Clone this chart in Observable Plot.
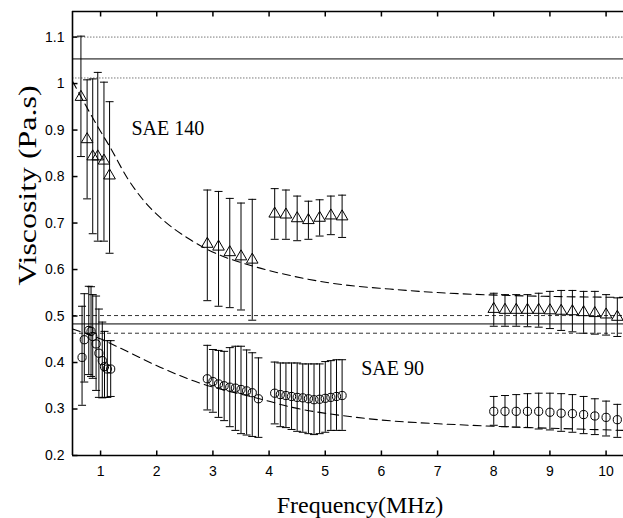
<!DOCTYPE html>
<html><head><meta charset="utf-8">
<script src="https://cdn.jsdelivr.net/npm/d3@7"></script>
<script src="https://cdn.jsdelivr.net/npm/@observablehq/plot@0.6"></script>
<style>body{margin:0;background:#fff}#chart svg{display:block}</style>
</head><body><div id="chart"></div>
<script>
// ---- SAE 140 (triangles) ----
const sae140Freq = [0.65,0.76,0.86,0.95,1.06,1.16, 2.9,3.1,3.3,3.5,3.7, 4.1,4.3,4.5,4.7,4.9,5.1,5.3, 8.0,8.2,8.4,8.6,8.8,9.0,9.2,9.4,9.6,9.8,10.0,10.2];
const sae140Visc = [0.971,0.880,0.843,0.843,0.834,0.802, 0.655,0.649,0.637,0.628,0.621, 0.720,0.718,0.710,0.706,0.711,0.716,0.714, 0.515,0.513,0.513,0.513,0.513,0.512,0.511,0.510,0.508,0.506,0.503,0.498];
const sae140Hi   = [1.102,1.008,1.010,1.024,1.003,0.961, 0.771,0.768,0.753,0.743,0.751, 0.774,0.771,0.758,0.747,0.750,0.758,0.760, 0.549,0.546,0.546,0.546,0.549,0.553,0.555,0.555,0.553,0.553,0.546,0.539];
const sae140Lo   = [0.843,0.752,0.677,0.661,0.661,0.635, 0.533,0.521,0.518,0.513,0.491, 0.665,0.665,0.662,0.665,0.672,0.675,0.669, 0.478,0.478,0.478,0.477,0.476,0.473,0.469,0.466,0.463,0.461,0.459,0.456];
// ---- SAE 90 (circles) ----
const sae90Freq = [0.67,0.71,0.79,0.83,0.86,0.92,0.97,1.03,1.07,1.12,1.18, 2.9,3.0,3.1,3.2,3.3,3.4,3.5,3.6,3.7,3.81, 4.1,4.2,4.3,4.4,4.5,4.6,4.7,4.8,4.9,5.0,5.1,5.2,5.3, 8.0,8.2,8.4,8.6,8.8,9.0,9.2,9.4,9.6,9.8,10.0,10.2];
const sae90Visc = [0.411,0.449,0.469,0.467,0.456,0.440,0.420,0.404,0.391,0.386,0.386, 0.365,0.359,0.354,0.350,0.347,0.345,0.342,0.339,0.335,0.322, 0.334,0.331,0.329,0.327,0.325,0.324,0.322,0.320,0.321,0.323,0.325,0.327,0.329, 0.295,0.295,0.295,0.295,0.295,0.293,0.291,0.290,0.288,0.285,0.282,0.277];
const sae90Hi   = [0.521,0.548,0.564,0.563,0.546,0.543,0.515,0.487,0.467,0.447,0.447, 0.437,0.428,0.426,0.424,0.432,0.435,0.435,0.427,0.421,0.410, 0.401,0.399,0.399,0.399,0.399,0.397,0.397,0.397,0.397,0.402,0.404,0.406,0.406, 0.327,0.329,0.331,0.333,0.334,0.334,0.333,0.331,0.327,0.322,0.317,0.310];
const sae90Lo   = [0.308,0.358,0.374,0.370,0.366,0.340,0.325,0.324,0.325,0.325,0.327, 0.298,0.293,0.282,0.275,0.262,0.254,0.247,0.244,0.241,0.239, 0.268,0.262,0.260,0.256,0.252,0.250,0.247,0.245,0.247,0.250,0.254,0.254,0.254, 0.265,0.262,0.261,0.260,0.257,0.255,0.252,0.250,0.247,0.245,0.242,0.239];
// ---- model curves (dashed) ----
const model140Freq = [0.5,0.995,1.17,1.47,1.77,2.06,2.6,2.89,3.78,4.38,5.09,6.15,7.4,10.31];
const model140Visc = [1.005,0.898,0.863,0.798,0.748,0.712,0.664,0.644,0.605,0.587,0.571,0.558,0.548,0.540];
const model90Freq = [0.5,0.995,1.47,2.06,2.6,4.02,4.26,5.56,7.4,7.99,10.31];
const model90Visc = [0.472,0.451,0.424,0.390,0.363,0.316,0.308,0.282,0.266,0.263,0.254];
// ---- reference lines ----
const ref140 = [1.053];
const ref140Band = [1.100, 1.012];
const ref90 = [0.483];
const ref90Band = [0.501, 0.463];
// ---- ticks & labels ----
const xTicks = [1,2,3,4,5,6,7,8,9,10];
const yTicks = [0.2,0.3,0.4,0.5,0.6,0.7,0.8,0.9,1.0,1.1];
const seriesLabels = ["SAE 140", "SAE 90"];
const xLabel = "Frequency(MHz)";
const yLabel = "Viscosity (Pa.s)";

const tri = sae140Freq.map((f,i)=>({f, v:sae140Visc[i], lo:sae140Lo[i], hi:sae140Hi[i]}));
const cir = sae90Freq.map((f,i)=>({f, v:sae90Visc[i], lo:sae90Lo[i], hi:sae90Hi[i]}));
const m140 = model140Freq.map((f,i)=>({f, v:model140Visc[i]}));
const m90 = model90Freq.map((f,i)=>({f, v:model90Visc[i]}));

const cap = {draw(c){c.moveTo(-4,0);c.lineTo(4,0);}};
const tUp = {draw(c){c.moveTo(0,0);c.lineTo(0,-5);}};
const tDown = {draw(c){c.moveTo(0,0);c.lineTo(0,5);}};
const tRight = {draw(c){c.moveTo(0,0);c.lineTo(5,0);}};
const serif = "'Liberation Serif','Times New Roman',serif";

function bars(data){
  return [
    Plot.ruleX(data,{x:"f",y1:"lo",y2:"hi",stroke:"black",strokeWidth:1}),
    Plot.dot(data,{x:"f",y:"lo",symbol:cap,stroke:"black",fill:"none",strokeWidth:1}),
    Plot.dot(data,{x:"f",y:"hi",symbol:cap,stroke:"black",fill:"none",strokeWidth:1})
  ];
}

const chart = Plot.plot({
  width:623, height:518,
  marginLeft:72, marginRight:0, marginTop:11, marginBottom:63,
  x:{domain:[0.5,10.31], ticks:xTicks, tickSize:0, tickPadding:11, label:null},
  y:{domain:[0.2,1.155], ticks:yTicks, tickSize:0, tickPadding:8, label:null, tickFormat:d=>String(+d.toFixed(2))},
  style:{fontFamily:"'Liberation Sans',Arial,sans-serif", fontSize:"14px", background:"white", color:"black", overflow:"visible"},
  marks:[
    Plot.ruleY(ref140Band,{stroke:"#555",strokeWidth:0.8,strokeDasharray:"1.5,1.5"}),
    Plot.ruleY(ref140,{stroke:"black",strokeWidth:1}),
    Plot.ruleY(ref90Band,{stroke:"black",strokeWidth:0.8,strokeDasharray:"4,3"}),
    Plot.ruleY(ref90,{stroke:"black",strokeWidth:1}),
    Plot.line(m140,{x:"f",y:"v",curve:"monotone-x",stroke:"black",strokeWidth:1.1,strokeDasharray:"8,5"}),
    Plot.line(m90,{x:"f",y:"v",curve:"monotone-x",stroke:"black",strokeWidth:1.1,strokeDasharray:"8,5"}),
    ...bars(tri),
    ...bars(cir),
    Plot.dot(tri,{x:"f",y:"v",symbol:"triangle",r:4.3,stroke:"black",fill:"none",strokeWidth:1}),
    Plot.dot(cir,{x:"f",y:"v",symbol:"circle",r:4.1,stroke:"black",fill:"none",strokeWidth:1}),
    // frame
    Plot.ruleY([0.2],{stroke:"black",strokeWidth:1.6}),
    Plot.ruleY([1.155],{stroke:"black",strokeWidth:1.3}),
    Plot.ruleX([0.5],{stroke:"black",strokeWidth:1.6}),
    // inward ticks
    Plot.dot(xTicks,{x:d=>d,frameAnchor:"bottom",symbol:tUp,stroke:"black",fill:"none"}),
    Plot.dot(xTicks,{x:d=>d,frameAnchor:"top",symbol:tDown,stroke:"black",fill:"none"}),
    Plot.dot(yTicks,{y:d=>d,frameAnchor:"left",symbol:tRight,stroke:"black",fill:"none"}),
    // annotations
    Plot.text([seriesLabels[0]],{x:()=>1.55,y:()=>0.903,text:d=>d,textAnchor:"start",lineAnchor:"middle",fontFamily:serif,fontSize:20,fill:"black"}),
    Plot.text([seriesLabels[1]],{x:()=>5.64,y:()=>0.387,text:d=>d,textAnchor:"start",lineAnchor:"middle",fontFamily:serif,fontSize:20,fill:"black"}),
    Plot.text([xLabel],{text:d=>d,frameAnchor:"bottom",dx:12,dy:50,lineAnchor:"middle",fontFamily:serif,fontSize:24,fill:"black"}),
    Plot.text([yLabel],{text:d=>d,frameAnchor:"left",dx:-45,dy:52,rotate:-90,lineAnchor:"middle",fontFamily:serif,fontSize:25,fill:"black"})
  ]
});
document.getElementById("chart").appendChild(chart);
chart.querySelectorAll("text").forEach(t=>{
  if(t.textContent===yLabel){t.setAttribute("textLength","200");t.setAttribute("lengthAdjust","spacingAndGlyphs");}
});
</script>
</body></html>
